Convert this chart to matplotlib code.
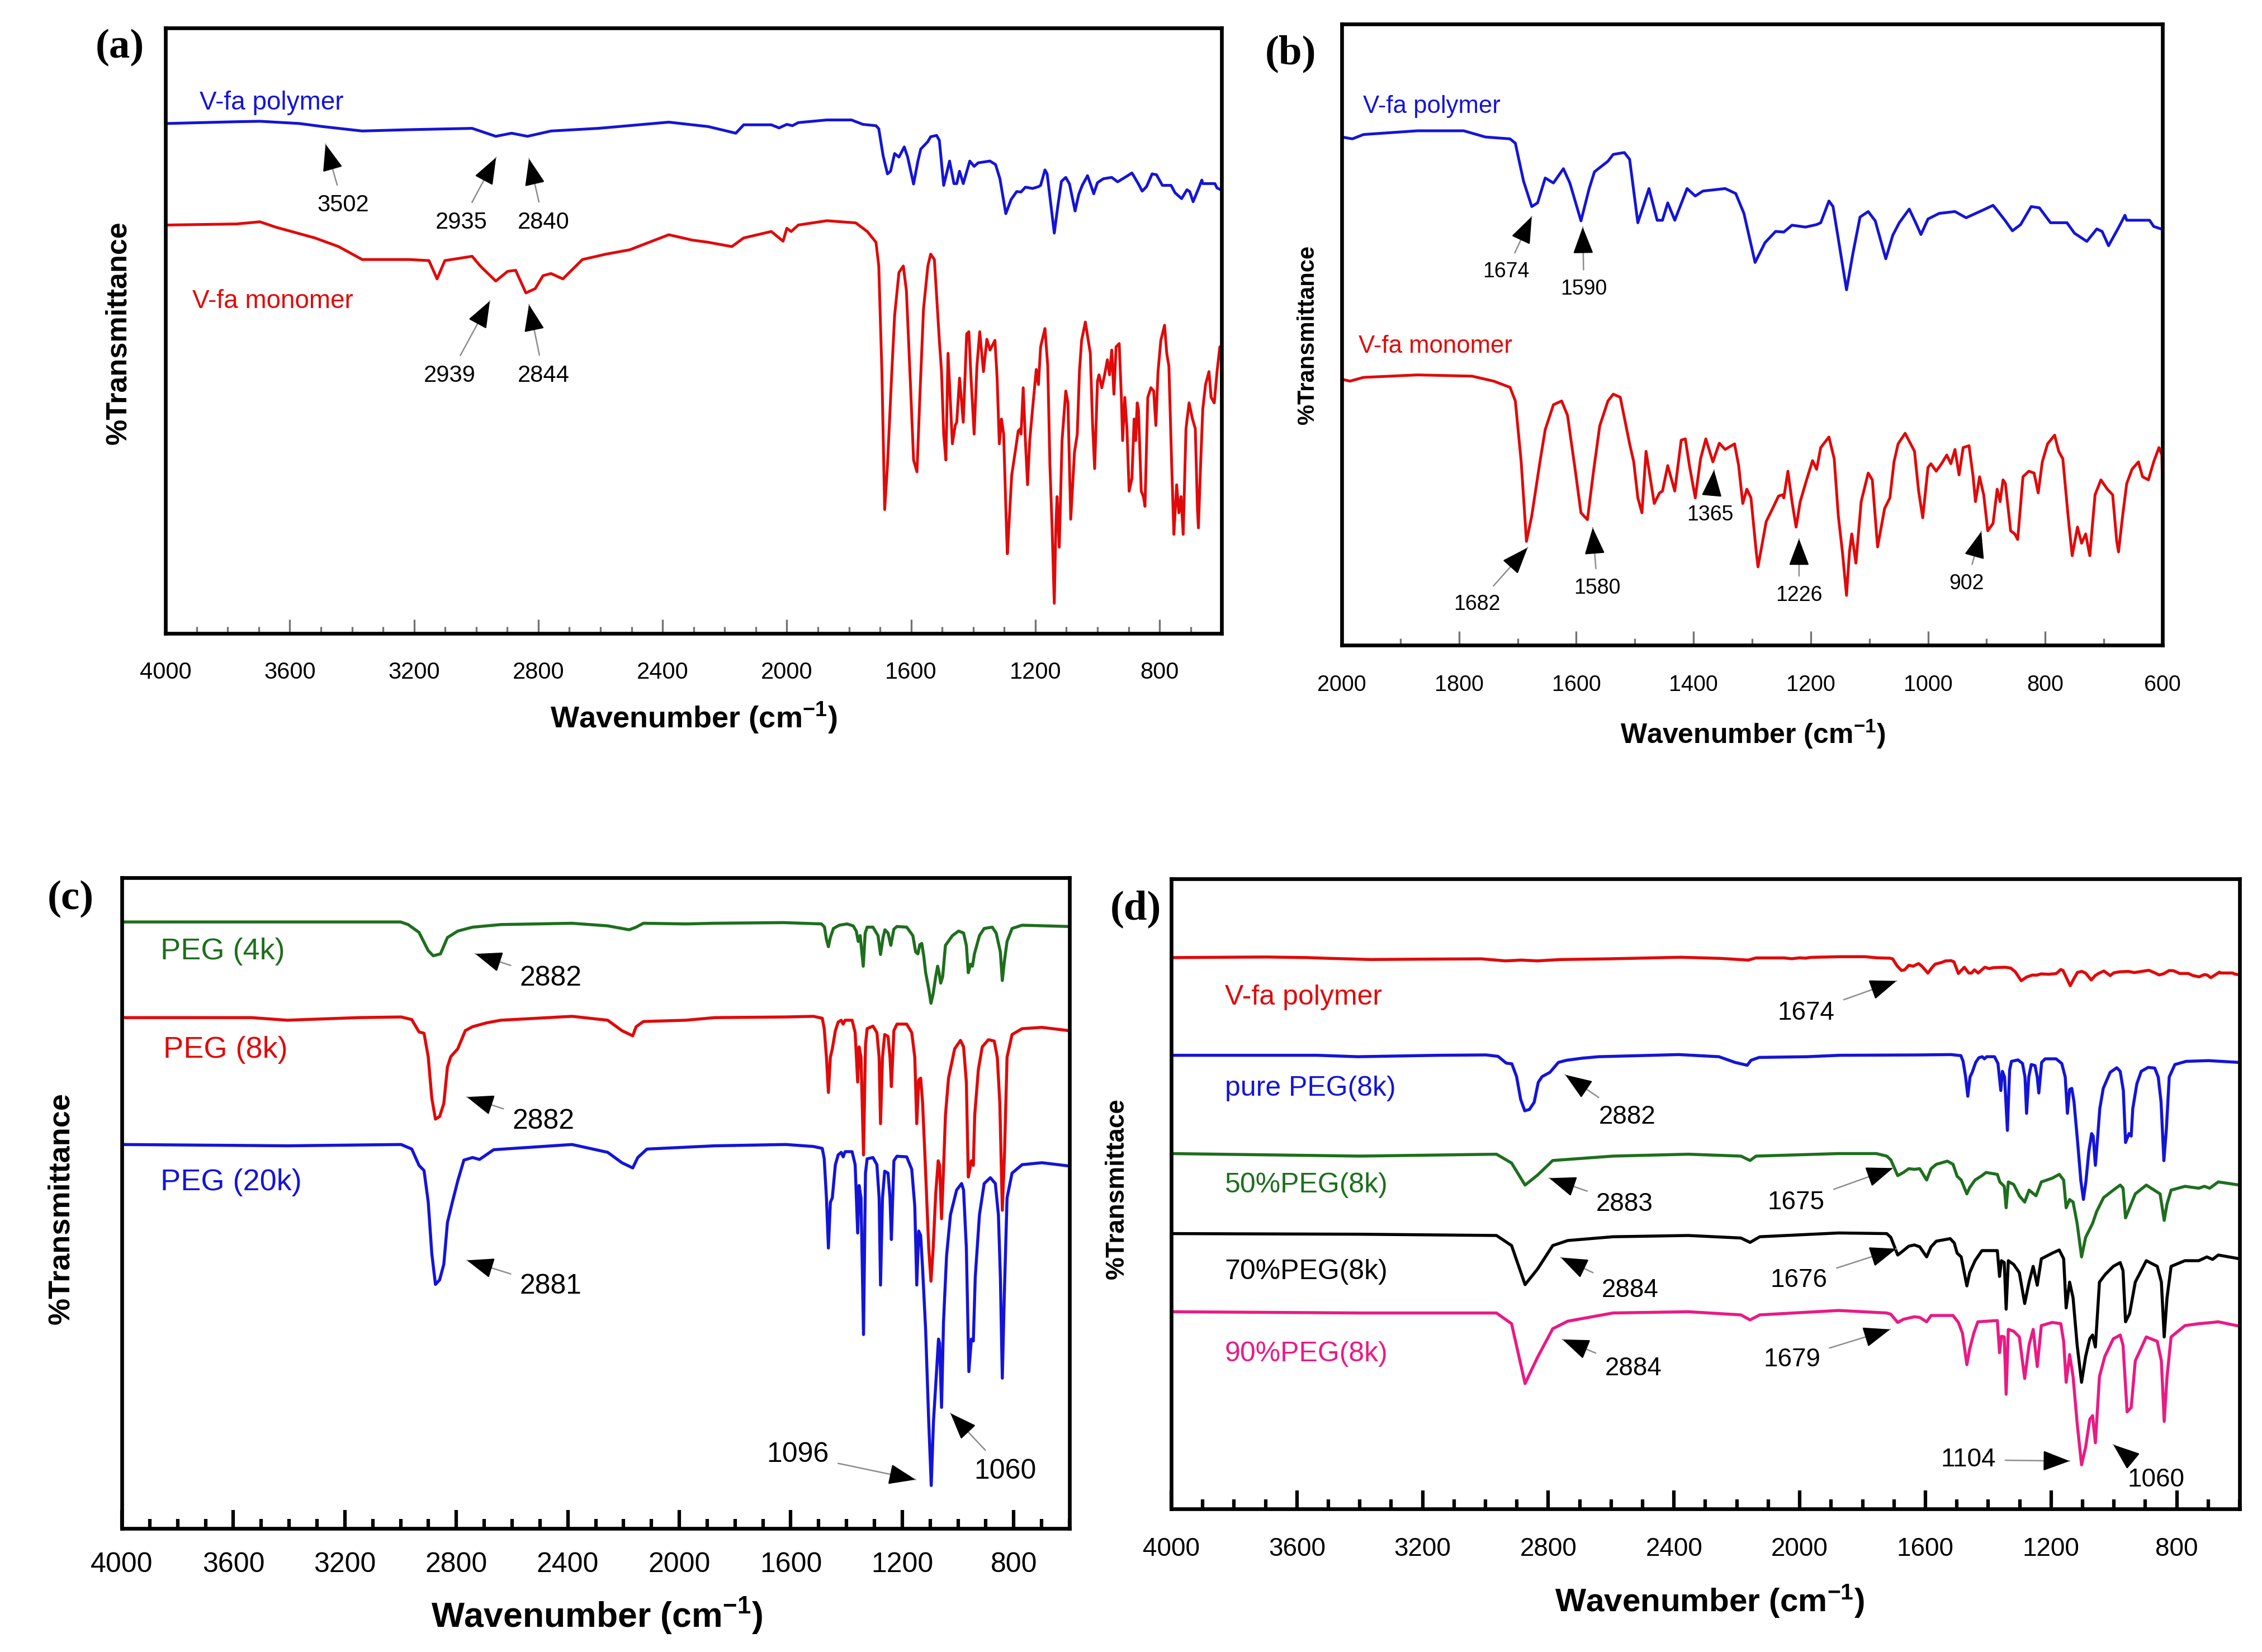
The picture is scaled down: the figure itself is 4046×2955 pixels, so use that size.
import numpy as np
import matplotlib
matplotlib.use('Agg')
import matplotlib.pyplot as plt
from matplotlib.ticker import MultipleLocator

# ---- spectra ----
# V-fa polymer / monomer, in panel (b) units (% of axis height)
poly_wn = [3995, 3772, 3696, 3570, 3494, 3367, 3215, 3013, 2937, 2886, 2835, 2759, 2607, 2380,
           2304, 2253, 2164, 2139, 2050, 2025, 2000, 1982, 1963, 1871, 1792, 1755, 1713, 1704,
           1690, 1676, 1666, 1653, 1639, 1622, 1611, 1592, 1578, 1569, 1546, 1537, 1518, 1509,
           1495, 1476, 1462, 1453, 1444, 1432, 1411, 1397, 1384, 1346, 1328, 1314, 1295, 1278,
           1260, 1246, 1232, 1209, 1190, 1183, 1169, 1162, 1153, 1139, 1128, 1116, 1102, 1090,
           1072, 1060, 1049, 1032, 1021, 1012, 1000, 981, 954, 935, 907, 889, 882, 868, 856,
           842, 824, 810, 791, 763, 750, 729, 712, 703, 692, 675, 664, 661, 643, 622, 615, 599]
poly_t = [82.0, 82.4, 82.5, 82.0, 81.3, 80.3, 80.6, 80.9, 79.1, 79.8, 79.1, 80.3, 80.9, 82.3,
          81.7, 81.3, 79.8, 81.7, 81.7, 81.0, 81.8, 81.5, 82.2, 82.8, 82.8, 81.8, 81.5, 80.8,
          74.7, 70.6, 71.2, 75.2, 74.4, 76.7, 74.4, 68.3, 73.5, 76.2, 77.9, 79.0, 79.3, 78.2,
          68.0, 73.5, 68.4, 68.4, 71.2, 68.4, 73.5, 72.3, 73.1, 73.5, 72.7, 69.5, 61.6, 64.8,
          66.6, 66.5, 67.6, 67.3, 67.7, 68.0, 71.5, 70.6, 65.4, 57.2, 63.1, 68.9, 69.8, 68.3,
          62.2, 66.0, 68.0, 70.2, 68.0, 66.1, 68.6, 69.5, 69.8, 68.8, 70.0, 70.8, 70.0, 68.3, 66.7,
          67.7, 70.6, 70.4, 68.0, 68.0, 66.3, 65.0, 67.0, 66.6, 64.3, 67.2, 69.2, 68.4, 68.4, 68.4, 67.4, 66.9]

mono_wn = [3995, 3772, 3696, 3645, 3519, 3443, 3367, 3316, 3215, 3152, 3126, 3101, 3013, 2987,
           2937, 2899, 2873, 2840, 2810, 2785, 2759, 2721, 2658, 2582, 2506, 2380, 2304, 2253,
           2177, 2139, 2050, 2012, 2000, 1986, 1963, 1871, 1778, 1741, 1713, 1704, 1694, 1685,
           1676, 1662, 1653, 1639, 1625, 1615, 1602, 1592, 1581, 1571, 1560, 1546, 1537, 1525,
           1509, 1502, 1495, 1488, 1481, 1467, 1458, 1453, 1444, 1432, 1421, 1414, 1407, 1397,
           1388, 1379, 1367, 1356, 1346, 1330, 1323, 1316, 1309, 1302, 1293, 1290, 1276, 1264,
           1255, 1248, 1246, 1239, 1232, 1225, 1218, 1209, 1197, 1190, 1183, 1169, 1160, 1153,
           1146, 1139, 1134, 1130, 1123, 1114, 1102, 1095, 1086, 1074, 1065, 1058, 1051, 1039,
           1023, 1016, 1009, 1000, 995, 986, 977, 968, 961, 954, 947, 940, 930, 923, 919, 912,
           905, 898, 889, 882, 877, 872, 868, 859, 852, 847, 838, 828, 819, 812, 805, 796, 784,
           777, 770, 761, 754, 745, 738, 731, 724, 715, 705, 694, 685, 678, 675, 668, 661, 652,
           641, 634, 624, 615, 606, 601, 599]
mono_t = [43.1, 43.2, 43.4, 42.9, 41.9, 41.1, 39.9, 39.9, 39.9, 39.8, 38.1, 39.8, 40.2, 39.3,
          37.9, 38.8, 38.9, 36.8, 37.2, 38.4, 38.6, 38.1, 39.9, 40.4, 40.8, 42.2, 41.7, 41.5,
          41.1, 41.9, 42.5, 41.6, 42.8, 42.5, 43.1, 43.5, 43.3, 42.5, 41.5, 39.3, 29.5, 16.7,
          20.8, 29.5, 34.7, 38.7, 39.3, 37.0, 28.3, 21.3, 20.2, 27.7, 35.3, 39.3, 40.4, 39.9,
          32.4, 29.5, 23.7, 21.3, 31.2, 22.8, 24.5, 24.8, 28.9, 24.8, 33.0, 33.2, 28.9, 23.7,
          30.0, 33.2, 29.5, 32.5, 31.5, 32.4, 28.9, 22.8, 25.1, 23.7, 15.0, 12.6, 19.9, 22.2,
          24.0, 24.2, 23.7, 28.0, 23.1, 19.0, 23.1, 26.0, 29.7, 28.3, 31.8, 33.5, 30.0, 20.8,
          15.0, 8.0, 15.0, 17.9, 13.2, 23.1, 27.7, 26.6, 15.8, 22.0, 23.7, 29.5, 32.4, 34.1,
          31.2, 24.8, 20.5, 28.6, 29.2, 28.0, 29.2, 30.6, 29.2, 31.5, 27.4, 31.8, 32.1, 27.1, 23.1, 27.1,
          24.2, 18.4, 19.6, 25.1, 23.1, 26.6, 26.0, 18.4, 17.9, 17.0, 27.1, 28.0, 27.7, 24.5, 29.5, 32.4, 33.8,
          31.2, 30.0, 20.8, 14.4, 19.0, 16.4, 17.9, 14.4, 24.2, 26.6, 25.1, 24.2, 16.7, 15.0, 20.8, 26.0, 28.3,
          29.5, 27.1, 26.6, 29.5, 31.8, 30.6, 20.8]

# PEG spectra, in panel (c) units
peg4_wn = [4000, 3400, 3000, 2973, 2934, 2901, 2883, 2857, 2832, 2795, 2742, 2640, 2385, 2257,
           2180, 2155, 2129, 1976, 1873, 1626, 1490, 1479, 1472, 1465, 1458, 1447, 1426, 1398,
           1376, 1365, 1358, 1351, 1340, 1333, 1326, 1305, 1287, 1278, 1269, 1262, 1251, 1241,
           1230, 1219, 1184, 1162, 1152, 1144, 1137, 1130, 1123, 1116, 1105, 1097, 1089, 1080,
           1073, 1068, 1062, 1055, 1045, 1020, 998, 980, 970, 963, 955, 948, 941, 923, 906, 877,
           863, 848, 841, 834, 824, 806, 770, 602]
peg4_t = [93.2, 93.2, 93.2, 92.8, 91.6, 88.8, 88.0, 88.3, 90.8, 91.8, 92.4, 92.8, 93.0, 92.6,
          92.0, 92.4, 93.0, 92.9, 93.0, 93.1, 92.9, 92.4, 90.5, 89.4, 90.8, 92.2, 92.7, 92.9,
          92.6, 91.8, 90.2, 91.1, 86.4, 91.5, 92.4, 92.4, 91.1, 88.2, 90.8, 92.0, 91.5, 89.6,
          92.1, 92.5, 92.4, 91.1, 88.6, 88.3, 89.7, 89.9, 88.0, 85.4, 82.9, 80.7, 82.2, 84.8,
          86.4, 85.4, 83.8, 84.8, 89.6, 91.1, 91.8, 91.5, 89.6, 85.4, 86.7, 86.4, 88.3, 91.1, 92.2, 92.4,
          91.5, 88.6, 84.2, 87.0, 90.2, 92.2, 92.7, 92.5]

peg8_wn = [4000, 3535, 3407, 3151, 2998, 2960, 2934, 2916, 2901, 2888, 2875, 2860, 2845, 2832,
           2820, 2795, 2768, 2742, 2691, 2640, 2385, 2257, 2206, 2167, 2155, 2129, 1976, 1873,
           1618, 1519, 1487, 1480, 1472, 1465, 1458, 1451, 1440, 1430, 1419, 1412, 1405, 1380,
           1369, 1360, 1355, 1348, 1339, 1332, 1326, 1305, 1291, 1283, 1278, 1271, 1263, 1251,
           1244, 1239, 1230, 1219, 1184, 1166, 1155, 1148, 1141, 1134, 1127, 1116, 1105, 1097,
           1089, 1080, 1071, 1066, 1059, 1052, 1045, 1034, 1012, 991, 980, 970, 963, 952, 945,
           940, 927, 913, 891, 870, 859, 850, 841, 833, 824, 806, 770, 699, 602]
peg8_t = [78.5, 78.5, 78.1, 78.5, 78.6, 78.2, 76.3, 76.1, 72.5, 66.1, 62.9, 63.3, 65.3, 70.9,
          72.5, 73.7, 76.5, 77.1, 77.7, 78.1, 78.7, 78.1, 76.5, 75.7, 77.1, 77.9, 78.1, 78.5,
          78.6, 78.7, 78.4, 76.8, 72.4, 67.0, 72.4, 73.7, 76.5, 77.8, 78.1, 77.5, 78.1, 78.1,
          76.2, 68.6, 74.0, 72.4, 57.4, 74.3, 76.8, 77.2, 76.2, 72.4, 62.2, 72.4, 75.9, 75.6,
          72.4, 67.9, 76.5, 77.5, 77.5, 76.2, 72.4, 62.2, 68.9, 69.2, 65.4, 54.6, 43.1, 38.0,
          43.1, 51.4, 56.5, 55.8, 47.6, 55.2, 63.5, 69.2, 73.7, 75.0, 74.0, 68.6, 54.0, 56.5, 55.8,
          63.5, 70.5, 74.0, 75.1, 74.9, 72.4, 65.4, 48.9, 57.8, 72.4, 75.9, 76.8, 77.0, 76.5]

peg20_wn = [4000, 3407, 2998, 2960, 2934, 2916, 2901, 2888, 2875, 2860, 2845, 2832, 2814, 2795,
            2773, 2742, 2717, 2666, 2385, 2257, 2206, 2167, 2149, 2116, 1873, 1618, 1519, 1487,
            1480, 1472, 1465, 1458, 1451, 1440, 1430, 1419, 1412, 1405, 1380, 1369, 1360, 1355,
            1348, 1339, 1332, 1326, 1305, 1291, 1283, 1278, 1271, 1263, 1251, 1244, 1239, 1230,
            1219, 1184, 1166, 1155, 1148, 1141, 1134, 1127, 1116, 1105, 1096, 1088, 1077, 1070,
            1066, 1059, 1052, 1041, 1027, 1005, 987, 980, 970, 961, 952, 945, 938, 923, 906, 884,
            866, 855, 848, 841, 834, 824, 806, 770, 699, 602]
peg20_t = [59.0, 58.8, 59.0, 58.3, 55.8, 55.0, 50.2, 42.2, 37.5, 38.2, 40.6, 47.0, 50.2, 53.4,
           56.6, 57.0, 56.7, 58.2, 59.0, 57.8, 56.2, 55.4, 57.0, 58.3, 58.8, 59.0, 58.7, 58.4,
           56.8, 50.8, 43.1, 50.1, 50.8, 55.9, 57.4, 57.8, 57.1, 57.9, 57.9, 55.9, 45.4, 52.7,
           50.8, 29.8, 54.6, 56.8, 57.0, 55.9, 50.8, 37.4, 50.8, 54.9, 54.6, 50.8, 44.4, 56.5,
           57.2, 57.1, 55.2, 49.5, 37.4, 45.7, 45.0, 39.9, 30.4, 16.4, 6.6, 16.4, 24.1, 29.1,
           28.5, 18.6, 31.7, 41.9, 48.2, 52.0, 53.0, 52.0, 43.1, 24.1, 29.1, 28.8, 38.7, 48.2, 53.0, 53.9,
           53.0, 48.2, 38.7, 23.1, 35.5, 50.8, 54.6, 55.9, 56.2, 55.7]

# V-fa / PEG(8k) blends, in panel (d) units
mix50_wn = [4000, 3400, 2965, 2917, 2874, 2834, 2786, 2594, 2355, 2187, 2158, 2139, 1876, 1756,
            1723, 1710, 1688, 1670, 1653, 1635, 1618, 1596, 1582, 1565, 1530, 1512, 1499, 1486,
            1468, 1459, 1442, 1420, 1407, 1371, 1363, 1349, 1343, 1336, 1319, 1301, 1284, 1270,
            1248, 1231, 1196, 1174, 1160, 1152, 1141, 1130, 1117, 1103, 1090, 1068, 1055, 1033,
            1002, 980, 971, 963, 950, 932, 897, 853, 840, 831, 818, 774, 730, 712, 695, 668, 600]
mix50_t = [56.4, 56.0, 56.3, 54.9, 51.4, 53.0, 55.3, 56.0, 56.3, 56.0, 55.3, 56.0, 56.4, 56.4,
           56.0, 55.4, 52.9, 53.4, 54.0, 53.9, 54.0, 52.2, 54.0, 54.7, 55.2, 54.7, 52.8, 52.2,
           50.0, 51.0, 52.2, 52.9, 53.4, 53.1, 51.9, 51.2, 47.8, 51.9, 51.5, 49.7, 48.7, 50.6,
           49.7, 51.9, 52.5, 53.1, 52.2, 47.8, 49.1, 48.7, 45.3, 40.0, 43.1, 45.3, 47.2, 49.4,
           50.6, 51.4, 50.9, 46.2, 47.8, 50.0, 51.4, 50.0, 45.8, 48.4, 50.6, 51.2, 50.9, 51.2, 50.9, 51.9, 51.4]

mix70_wn = [4000, 3400, 2965, 2917, 2874, 2834, 2786, 2738, 2594, 2355, 2187, 2158, 2127, 1876,
            1723, 1710, 1688, 1670, 1653, 1635, 1618, 1596, 1582, 1565, 1521, 1508, 1499, 1486,
            1468, 1459, 1442, 1420, 1371, 1364, 1358, 1349, 1343, 1336, 1319, 1301, 1284, 1270,
            1257, 1244, 1231, 1196, 1174, 1160, 1152, 1141, 1130, 1117, 1103, 1090, 1077, 1068,
            1059, 1046, 1028, 1002, 980, 971, 963, 950, 932, 897, 862, 849, 840, 831, 818, 774,
            730, 704, 686, 668, 600]
mix70_t = [43.7, 43.6, 43.4, 41.8, 35.6, 38.1, 41.8, 42.6, 43.2, 43.4, 43.0, 42.3, 43.2, 43.8,
           43.7, 43.1, 40.3, 41.0, 41.7, 41.9, 41.6, 40.0, 41.6, 42.5, 42.9, 42.2, 40.6, 40.0,
           35.4, 37.5, 39.4, 41.0, 41.0, 36.9, 39.4, 39.1, 31.7, 39.4, 38.8, 37.5, 32.6, 36.0,
           38.5, 35.5, 39.7, 40.6, 41.1, 39.7, 31.9, 36.0, 33.5, 26.0, 20.1, 24.2, 27.0, 27.6,
           25.7, 36.0, 37.2, 38.5, 39.1, 37.8, 29.7, 31.0, 36.0, 39.4, 38.5, 36.0, 27.3, 33.5, 38.5, 39.4,
           39.4, 40.0, 39.6, 40.3, 39.7]

mix90_wn = [4000, 3400, 2965, 2917, 2874, 2834, 2786, 2738, 2594, 2355, 2187, 2158, 2127, 1876,
            1723, 1710, 1688, 1670, 1635, 1618, 1596, 1582, 1512, 1495, 1482, 1468, 1459, 1446,
            1433, 1371, 1364, 1358, 1349, 1343, 1336, 1319, 1301, 1284, 1270, 1257, 1244, 1231,
            1196, 1169, 1160, 1152, 1141, 1130, 1117, 1103, 1090, 1077, 1068, 1059, 1046, 1029,
            1002, 980, 971, 958, 945, 932, 897, 862, 849, 840, 831, 818, 774, 730, 686, 668, 600]
mix90_t = [31.3, 31.1, 31.1, 29.4, 19.9, 24.1, 28.6, 29.8, 31.1, 31.3, 30.8, 30.0, 30.8, 31.5,
           31.1, 30.9, 29.6, 30.1, 30.5, 30.4, 29.7, 30.7, 30.7, 29.6, 27.9, 22.9, 25.4, 27.9,
           29.7, 29.9, 24.8, 27.4, 27.3, 18.2, 28.5, 28.2, 27.3, 20.7, 26.0, 28.5, 22.6, 29.1,
           29.6, 29.4, 26.6, 20.1, 24.5, 21.0, 13.6, 7.0, 9.8, 14.2, 14.8, 10.5, 21.0, 24.2,
           27.0, 27.6, 26.0, 15.4, 16.1, 23.5, 27.3, 26.6, 23.5, 13.9, 21.0, 27.3, 29.1, 29.4, 29.6, 29.7, 29.0]

BLUE = '#1414d8'
RED = '#e00a0a'
GREEN = '#1e6e1e'
PINK = '#ea1a84'

plt.rcParams['font.family'] = ['Liberation Sans', 'DejaVu Sans']
plt.rcParams['mathtext.fontset'] = 'custom'
plt.rcParams['mathtext.rm'] = 'Liberation Sans:bold'
plt.rcParams['mathtext.default'] = 'rm'


def frame(ax, xlim, major, tick_color, tick_len, tick_w, tick_fs, pad, spine_w):
    ax.set_xlim(*xlim)
    ax.set_ylim(0, 100)
    ax.set_yticks([])
    ax.xaxis.set_major_locator(MultipleLocator(major))
    ax.xaxis.set_minor_locator(MultipleLocator(100))
    ax.tick_params(axis='x', which='both', direction='in', color=tick_color, width=tick_w,
                   labelsize=tick_fs, pad=pad)
    ax.tick_params(axis='x', which='major', length=tick_len)
    ax.tick_params(axis='x', which='minor', length=tick_len * 0.5)
    for s in ax.spines.values():
        s.set_linewidth(spine_w)


def labels(ax, xfs, yfs, xy_x, xy_y, ytext='%Transmittance'):
    ax.set_xlabel('Wavenumber (cm$^{-1}$)', fontsize=xfs, fontweight='bold')
    ax.set_ylabel(ytext, fontsize=yfs, fontweight='bold')
    ax.xaxis.set_label_coords(*xy_x)
    ax.yaxis.set_label_coords(*xy_y)
    ax.xaxis.label.set_va('center')
    ax.yaxis.label.set_va('center')


def mark(ax, text, tip, at, fs):
    # thin grey shaft from the number, black head at the band
    ax.annotate(text, xy=tip, xytext=at, fontsize=fs, ha='center', va='center',
                arrowprops=dict(arrowstyle='-', color='0.55', lw=0.6, shrinkA=2, shrinkB=0))
    p1 = ax.transData.transform(tip)
    p0 = ax.transData.transform(at)
    d = (p1 - p0) / np.hypot(*(p1 - p0))
    tail = ax.transData.inverted().transform(p1 - d * 40)
    ax.annotate('', xy=tip, xytext=tail,
                arrowprops=dict(arrowstyle='-|>,head_length=1.0,head_width=0.38', color='black',
                                lw=0.6, shrinkA=0, shrinkB=0, mutation_scale=10))


fig = plt.figure(figsize=(4046 / 300, 2955 / 300), dpi=300)
ax_a = fig.add_axes([0.0732, 0.6166, 0.4669, 0.3665])
ax_b = fig.add_axes([0.5932, 0.6095, 0.3628, 0.3760])
ax_c = fig.add_axes([0.0539, 0.0748, 0.4189, 0.3939])
ax_d = fig.add_axes([0.5178, 0.0866, 0.4723, 0.3814])

poly = np.array(poly_t)
mono = np.array(mono_t)
peg8 = np.array(peg8_t)

# (a)
frame(ax_a, (4000, 600), 400, '0.45', 6, 0.8, 10, 12, 1.6)
ax_a.plot(poly_wn, 84.8 + 0.73 * (poly - 82.8), color=BLUE, lw=1.2)
ax_a.plot(mono_wn, 67.8 + 1.78 * (mono - 43.3), color=RED, lw=1.2)
ax_a.text(3890, 87.6, 'V-fa polymer', color=BLUE, fontsize=11, va='center')
ax_a.text(3914, 54.8, 'V-fa monomer', color=RED, fontsize=11, va='center')
labels(ax_a, 13, 12.5, (0.5, -0.14), (-0.0445, 0.497))
for t, tip, at in [('3502', (3485, 80.8), (3429, 70.7)), ('2935', (2936, 78.6), (3048, 67.9)),
                   ('2840', (2830, 78.4), (2783, 67.9)), ('2939', (2956, 54.9), (3086, 42.6)),
                   ('2844', (2830, 54.3), (2783, 42.6))]:
    mark(ax_a, t, tip, at, 10)

# (b)
frame(ax_b, (2000, 600), 200, '0.45', 6, 0.8, 9.5, 12.5, 1.6)
ax_b.plot(poly_wn, poly, color=BLUE, lw=1.2)
ax_b.plot(mono_wn, mono, color=RED, lw=1.2)
ax_b.text(1964, 86.7, 'V-fa polymer', color=BLUE, fontsize=10.5, va='center')
ax_b.text(1971, 48.1, 'V-fa monomer', color=RED, fontsize=10.5, va='center')
labels(ax_b, 12, 10, (0.501, -0.143), (-0.0415, 0.499))
for t, tip, at in [('1674', (1676, 69.0), (1720, 60.1)), ('1590', (1589, 67.3), (1587, 57.3)),
                   ('1682', (1683, 15.7), (1769, 6.6)), ('1580', (1572, 18.9), (1564, 9.2)),
                   ('1365', (1365, 28.2), (1372, 21.0)), ('1226', (1220, 17.1), (1220, 8.0)),
                   ('902', (909, 18.3), (934, 9.9))]:
    mark(ax_b, t, tip, at, 9)

# (c)
frame(ax_c, (4000, 600), 400, 'black', 8, 1.5, 12, 10, 1.6)
ax_c.plot(peg4_wn, peg4_t, color=GREEN, lw=1.3)
ax_c.plot(peg8_wn, peg8, color=RED, lw=1.3)
ax_c.plot(peg20_wn, peg20_t, color=BLUE, lw=1.3)
ax_c.text(3862, 88.7, 'PEG (4k)', color=GREEN, fontsize=13, va='center')
ax_c.text(3852, 73.5, 'PEG (8k)', color=RED, fontsize=13, va='center')
ax_c.text(3862, 53.2, 'PEG (20k)', color=BLUE, fontsize=13, va='center')
labels(ax_c, 15, 13, (0.501, -0.134), (-0.064, 0.492))
for t, tip, at in [('2882', (2732, 88.3), (2461, 84.5)), ('2882', (2762, 66.3), (2487, 62.5)),
                   ('2881', (2762, 41.2), (2461, 37.2)), ('1096', (1152, 7.5), (1575, 11.3)),
                   ('1060', (1027, 17.7), (831, 8.8))]:
    mark(ax_c, t, tip, at, 12)

# (d)
frame(ax_d, (4000, 600), 400, 'black', 8, 1.5, 11, 12, 1.6)
ax_d.plot(poly_wn, 87.65 + 0.18 * (poly - 82.8), color=RED, lw=1.3)
ax_d.plot(peg8_wn, 72.0 + 0.565 * (peg8 - 78.5), color=BLUE, lw=1.3)
ax_d.plot(mix50_wn, mix50_t, color=GREEN, lw=1.3)
ax_d.plot(mix70_wn, mix70_t, color='black', lw=1.3)
ax_d.plot(mix90_wn, mix90_t, color=PINK, lw=1.3)
for txt, y, c in [('V-fa polymer', 81.2, RED), ('pure PEG(8k)', 66.7, BLUE),
                  ('50%PEG(8k)', 51.4, GREEN), ('70%PEG(8k)', 37.6, 'black'),
                  ('90%PEG(8k)', 24.6, PINK)]:
    ax_d.text(3830, y, txt, color=c, fontsize=12, va='center')
labels(ax_d, 14, 11, (0.504, -0.146), (-0.051, 0.508), ytext='%Transmittace')
for t, tip, at in [('1674', (1692, 83.8), (1979, 78.7)), ('2882', (2746, 68.9), (2548, 62.2)),
                   ('2883', (2797, 52.5), (2557, 48.4)), ('1675', (1703, 54.1), (2011, 48.6)),
                   ('2884', (2760, 39.9), (2539, 34.7)), ('1676', (1692, 41.3), (2002, 36.3)),
                   ('2884', (2755, 26.9), (2530, 22.3)), ('1679', (1712, 28.5), (2025, 23.7)),
                   ('1104', (1141, 7.6), (1463, 7.8)), ('1060', (1002, 10.2), (866, 4.6))]:
    mark(ax_d, t, tip, at, 11)

for lab, x, y in [('(a)', 0.0531, 0.9712), ('(b)', 0.5705, 0.9675),
                  ('(c)', 0.0313, 0.4558), ('(d)', 0.5022, 0.4497)]:
    fig.text(x, y, lab, fontsize=18, fontweight='bold', family='Liberation Serif',
             ha='center', va='center')

fig.savefig('out.png', dpi=300)
